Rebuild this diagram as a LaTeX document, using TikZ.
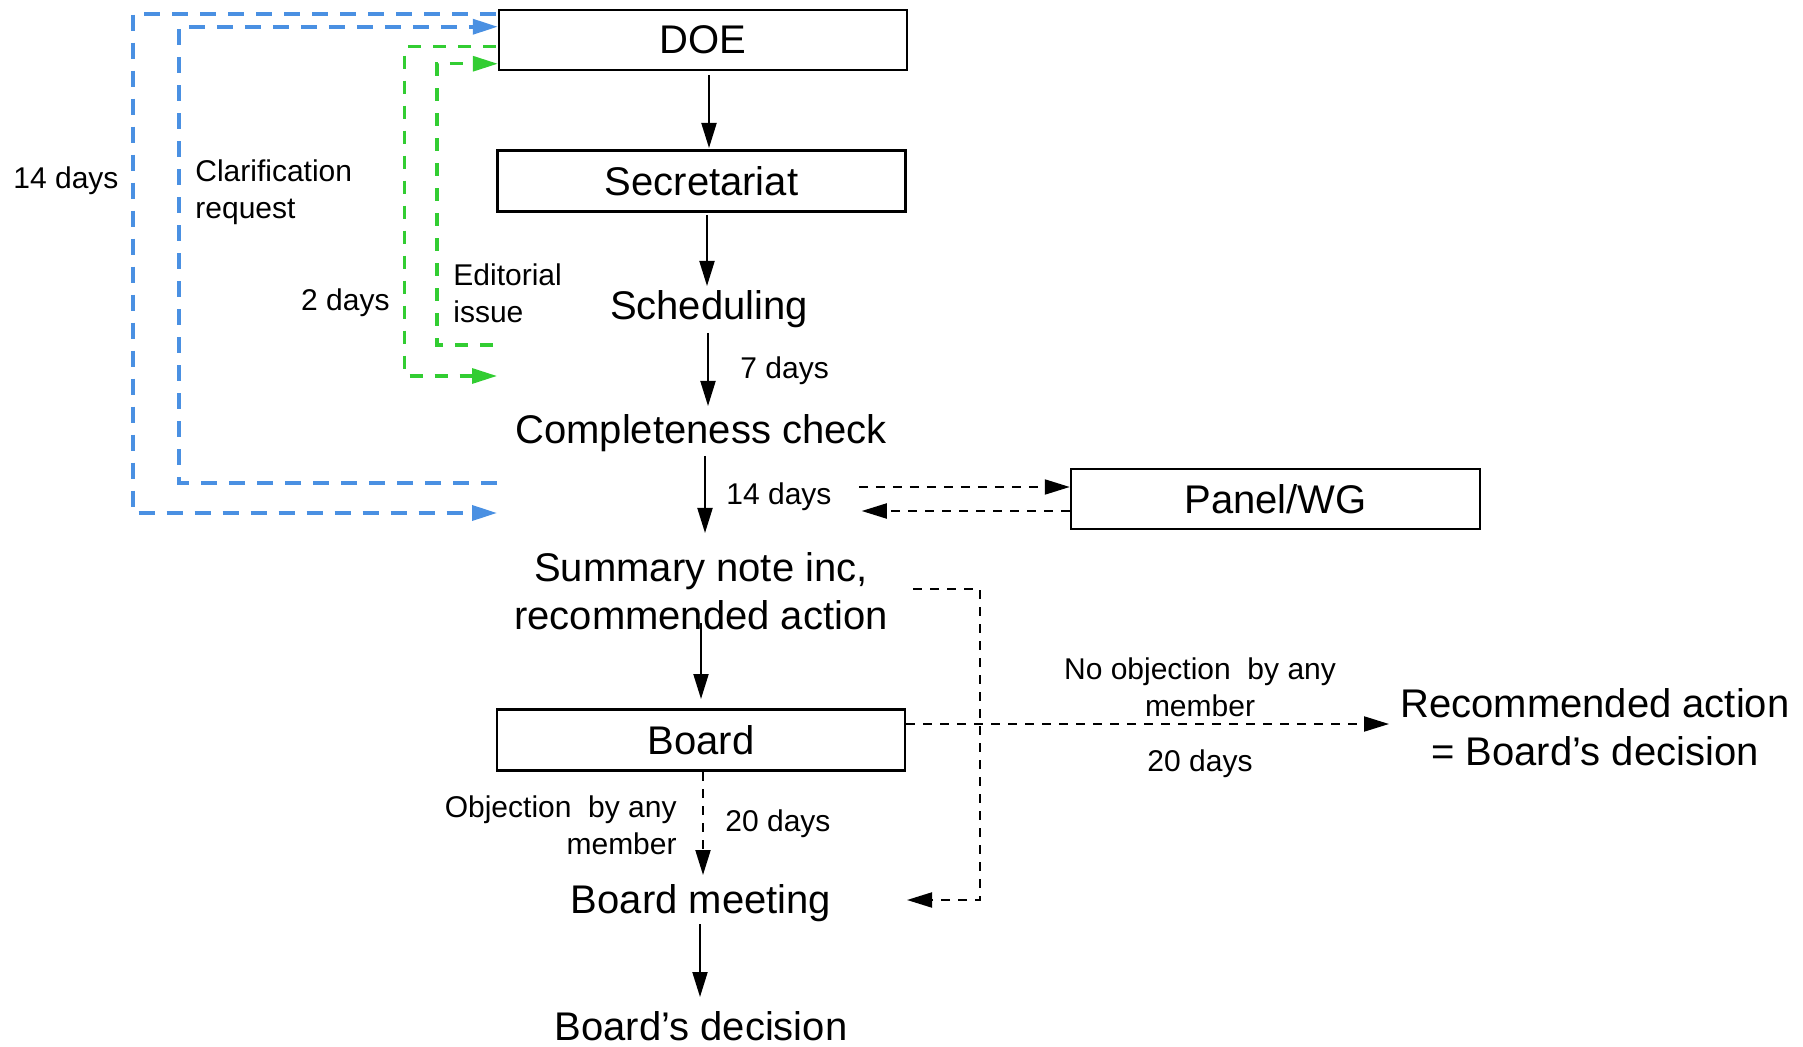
\documentclass[tikz,border=0pt]{standalone}
\usepackage{fontspec}
\setmainfont{Liberation Sans}
\usetikzlibrary{arrows.meta,calc}
\definecolor{cblue}{RGB}{74,144,226}
\definecolor{cgreen}{RGB}{50,205,50}
\tikzset{
  box/.style={draw, line width=1.25pt, minimum width=204pt, minimum height=30pt, inner sep=0pt, font=\fontsize{20}{24}\selectfont},
  maintxt/.style={inner sep=0pt, anchor=base, font=\fontsize{20}{24}\selectfont},
  lbl/.style={inner sep=0pt, font=\fontsize{15}{18.5}\selectfont},
  tip/.style={-{Triangle[length=12.5pt,width=7.5pt]}},
  arr/.style={tip, line width=1pt},
  darr/.style={tip, line width=1pt, dash pattern=on 4.5pt off 4pt},
  bluel/.style={cblue, line width=1.8pt, dash pattern=on 8pt off 6pt},
  greenl/.style={cgreen, line width=1.6pt, dash pattern=on 6.5pt off 6pt}
}
\begin{document}
\begin{tikzpicture}[x=0.5pt,y=-0.5pt]
\useasboundingbox (0,0) rectangle (1803,1047);

% main column
\node[box] (doe) at (703,40) {DOE};
\node[box, minimum height=30.5pt] (sec) at (701.5,181) {Secretariat};
\node[maintxt] (sched) at (709,320) {Scheduling};
\node[maintxt] (comp) at (701,444) {Completeness check};
\node[maintxt, align=center] (summ) at (701,629) {Summary note inc,\\recommended action};
\node[box, minimum height=30.5pt] (board) at (701,740) {Board};
\node[maintxt] (meet) at (701,913) {Board meeting};
\node[maintxt] (dec) at (701,1040) {Board’s decision};
\node[box, minimum width=204.5pt] (panel) at (1275.5,499) {Panel/WG};
\node[maintxt, align=center] (rec) at (1595,765) {Recommended action\\= Board’s decision};

% labels
\node[lbl, anchor=base] (l14a) at (66,189) {14 days};
\node[lbl, anchor=base west, align=left] (clar) at (195,219) {Clarification\\request};
\node[lbl, anchor=base east] (l2) at (390,311) {2 days};
\node[lbl, anchor=base west, align=left] (edit) at (453,323) {Editorial\\issue};
\node[lbl, anchor=base west] (l7) at (740,379) {7 days};
\node[lbl, anchor=base west] (l14b) at (726,504) {14 days};
\node[lbl, anchor=base, align=center] (noobj) at (1200,716) {No objection\ \ by any\\member};
\node[lbl, anchor=base] (l20a) at (1200,771) {20 days};
\node[lbl, anchor=base east, align=right] (obj) at (677,854) {Objection\ \ by any\\member};
\node[lbl, anchor=base west] (l20b) at (725,831) {20 days};

% free ends of the loops
\coordinate (bluein) at (497,513);
\coordinate (blueout) at (497,483);
\coordinate (greenin) at (497,376);
\coordinate (greenout) at (493,345);

% main arrows
\draw[arr] ($(doe.center)+(6,35)$) -- ($(sec.center)+(7.5,-33)$);
\draw[arr] ($(sec.center)+(5.5,34)$) -- ($(sched.base)+(-2,-34)$);
\draw[arr] ($(sched.base)+(-1,13)$) -- ($(comp.base)+(7,-38)$);
\draw[arr] ($(comp.base)+(4,12)$) -- ($(summ.base)+(4,-96)$);
\draw[arr] ($(summ.base)+(0,-6)$) -- ($(board.center)+(0,-41)$);
\draw[darr] ($(board.center)+(2,32)$) -- ($(meet.base)+(2,-38)$);
\draw[arr] ($(meet.base)+(-1,11)$) -- ($(dec.base)+(-1,-43)$);

% panel
\draw[darr] ($(panel.west)+(-211,-12)$) -- ($(panel.west)+(0,-12)$);
\draw[darr] ($(panel.west)+(0,12)$) -- ($(panel.west)+(-208,12)$);

% summary to board meeting
\draw[darr] ($(summ.base)+(212,-40)$) -- ++(67,0) |- ($(meet.base)+(206,-13)$);

% board to recommended action
\draw[darr] ($(board.east)+(0,-16)$) -- ($(rec.base)+(-206,-41)$);

% blue loops
\draw[bluel, tip] ($(doe.north west)+(-2,5)$) -- ++(-363,0) |- (bluein);
\draw[bluel, tip] (blueout) -- ++(-318,0) |- ($(doe.north west)+(0,18)$);

% green loops
\draw[greenl, tip] ($(doe.north west)+(-2,38)$) -- ++(-91,0) |- (greenin);
\draw[greenl, tip] (greenout) -- ++(-56,0) |- ($(doe.north west)+(0,55)$);
\end{tikzpicture}
\end{document}
